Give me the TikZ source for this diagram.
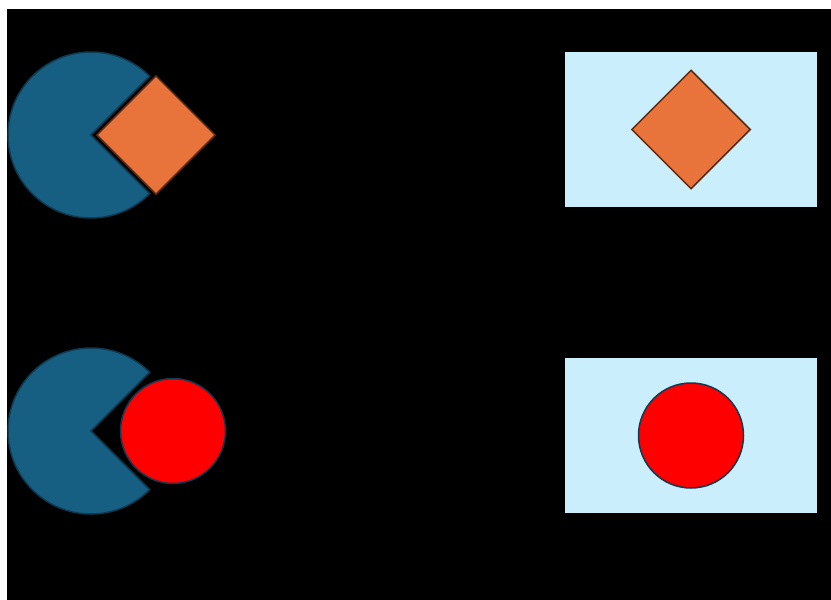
\documentclass[tikz,border=0pt]{standalone}
\usetikzlibrary{shapes.geometric}
\definecolor{pacfill}{HTML}{165E82}
\definecolor{pacline}{HTML}{0E3A52}
\definecolor{orangefill}{HTML}{E8743B}
\definecolor{orangeline}{HTML}{5A2A12}
\definecolor{boxfill}{HTML}{CAEEFB}
\tikzset{
  pacman/.style={fill=pacfill, draw=pacline, line width=1.5pt},
  gem/.style={diamond, shape aspect=1, fill=orangefill, draw=orangeline, line width=1.5pt, minimum width=119pt, minimum height=119pt, inner sep=0pt},
  ball/.style={circle, fill=red, draw=pacline, line width=1.5pt, minimum size=105pt, inner sep=0pt},
  panel/.style={rectangle, fill=boxfill, draw=none, minimum width=252pt, minimum height=155pt, inner sep=0pt}
}
\begin{document}
\begin{tikzpicture}[x=1pt, y=-1pt]
\useasboundingbox (0,0) rectangle (831,600);
\fill[white] (0,0) rectangle (831,600);
\fill[black] (7,9) rectangle (831,600);
% top-left pacman
\coordinate (p1) at (91,135);
\draw[pacman] (p1) -- ++(45:83pt) arc[start angle=45, end angle=315, radius=83pt] -- cycle;
\node[gem] (d1) at (156,135) {};
% bottom-left pacman
\coordinate (p2) at (91,431);
\draw[pacman] (p2) -- ++(45:83pt) arc[start angle=45, end angle=315, radius=83pt] -- cycle;
\node[ball] (c1) at (173,431) {};
% right panels
\node[panel] (b1) at (691,129.5) {};
\node[gem] (d2) at (691,129.5) {};
\node[panel] (b2) at (691,435.5) {};
\node[ball] (c2) at (691,435.5) {};
\end{tikzpicture}
\end{document}
